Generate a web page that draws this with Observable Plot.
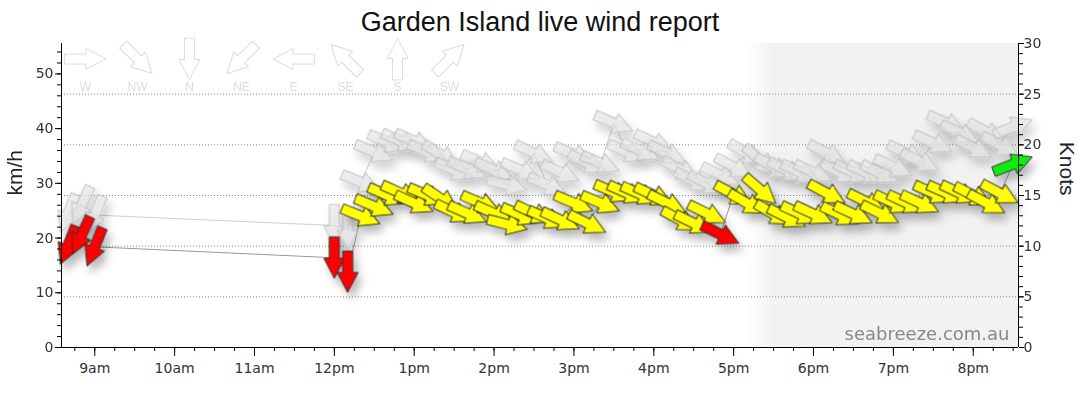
<!DOCTYPE html>
<html><head><meta charset="utf-8">
<script src="https://cdn.jsdelivr.net/npm/d3@7"></script>
<script src="https://cdn.jsdelivr.net/npm/@observablehq/plot@0.6"></script>
<style>
body{margin:0;background:#fff;width:1080px;height:414px;overflow:hidden;position:relative;}
#title{height:33px;line-height:45px;font-family:"Liberation Sans",Arial,sans-serif;font-size:27px;text-align:center;color:#111;white-space:nowrap;}
#legend{position:absolute;left:0;top:0;z-index:2;pointer-events:none;}
#chart svg,#legend svg{display:block;}
</style></head><body>
<div id="title">Garden Island live wind report</div>
<div id="chart"></div>
<div id="legend"></div>
<script>
const KN = 1.852; // km/h per knot

// observation times (local)
const times = ["08:40","08:50","09:00","12:00","12:10",
  "12:20","12:30","12:40","12:50","13:00","13:10","13:20","13:30","13:40","13:50",
  "14:00","14:10","14:20","14:30","14:40","14:50","15:00","15:10","15:20","15:30",
  "15:40","15:50","16:00","16:10","16:20","16:30","16:40","16:50","17:00","17:10",
  "17:20","17:30","17:40","17:50","18:00","18:10","18:20","18:30","18:40","18:50",
  "19:00","19:10","19:20","19:30","19:40","19:50","20:00","20:10","20:20","20:30"];
// average wind speed, km/h
const speeds = [18.7,20.5,18.4,16.4,13.8,
  24.0,25.8,27.8,28.2,26.4,27.8,27.2,24.7,24.5,26.4,
  24.5,22.5,24.2,24.5,23.6,23.3,26.4,22.7,26.4,28.4,
  28.2,28.0,27.8,26.4,23.3,22.7,24.5,20.7,28.0,26.4,
  28.8,24.4,23.8,24.4,24.4,28.2,24.2,24.4,26.6,24.5,
  26.4,26.4,26.4,28.2,28.2,28.2,27.8,26.4,28.2,33.5];
// gusts, km/h
const gusts = [24.5,26.0,24.2,22.3,21.5,
  30.2,35.7,37.5,37.7,37.7,35.7,35.2,32.4,32.6,33.9,
  32.4,29.7,32.4,35.5,29.7,32.0,35.3,33.7,33.7,41.0,
  35.7,36.0,37.5,35.5,32.5,30.5,30.0,31.5,33.0,35.5,
  34.2,33.0,32.4,32.0,32.0,35.5,32.0,32.0,31.9,31.9,
  33.0,35.5,34.0,37.4,41.0,39.2,36.5,39.4,37.0,40.3];
// direction the wind comes from, degrees
const dirs = [22,25,22,0,0,
  292,293,293,294,294,293,304,295,294,293,
  294,284,293,295,294,295,293,296,293,293,
  294,294,295,296,298,296,296,296,298,300,
  311,300,296,295,295,298,296,295,296,296,
  295,295,295,294,294,295,297,298,298,249];

const domainStart = "08:35", domainEnd = "20:34";
const nightStart = "17:10";
const xTickTimes = ["09:00","10:00","11:00","12:00","13:00","14:00","15:00","16:00","17:00","18:00","19:00","20:00"];
const xTickLabels = ["9am","10am","11am","12pm","1pm","2pm","3pm","4pm","5pm","6pm","7pm","8pm"];
const kmhTicks = [0,10,20,30,40,50];
const knotTicks = [0,5,10,15,20,25,30];
const gridKnots = [5,10,15,20,25];
const colorThresholdsKn = [12, 18];
const speedColors = ["#ff0000","#ffff00","#11ee11"];
const legendDirs = ["W","NW","N","NE","E","SE","S","SW"];
const legendDeg = [270,315,0,45,90,135,180,225];

const T = s => { const [h, m] = s.split(":").map(Number); return new Date(Date.UTC(2024, 0, 15, h, m)); };
const data = times.map((t, i) => ({time: T(t), speed: speeds[i], gust: gusts[i], dir: dirs[i]}));
const xTicks = xTickTimes.map(T);
const x0 = T(domainStart), x1 = T(domainEnd);

const windArrow = {
  draw(context, l) {
    const hl = 20, hw = 10.5, sw = 5;
    context.moveTo(-sw, 0);
    context.lineTo(-sw, -l + hl);
    context.lineTo(-hw, -l + hl);
    context.lineTo(0, -l);
    context.lineTo(hw, -l + hl);
    context.lineTo(sw, -l + hl);
    context.lineTo(sw, 0);
    context.closePath();
  }
};

const minorX = d3.utcMinute.every(15).range(x0, x1);
const minorKmh = d3.range(0, 56, 2);
const minorKn = d3.range(0, 31, 1).map(k => k * KN);

const chart = Plot.plot({
  width: 1080, height: 381,
  marginTop: 10, marginBottom: 67, marginLeft: 61, marginRight: 62,
  style: {fontFamily: "'DejaVu Sans', Verdana, sans-serif", fontSize: "14px", color: "#333", background: "white", overflow: "visible"},
  x: {type: "utc", domain: [x0, x1], label: null},
  y: {domain: [0, 30 * KN], label: null},
  color: {type: "threshold", domain: colorThresholdsKn.map(k => k * KN), range: speedColors},
  marks: [
    Plot.rect([[T(nightStart), x1]], {x1: d => d[0], x2: d => d[1], fill: "url(#nightGrad)"}),
    Plot.gridY(gridKnots.map(k => k * KN), {stroke: "#888", strokeOpacity: 1, strokeDasharray: "1,2"}),
    Plot.line(data, {x: "time", y: "gust", stroke: "#cfcfcf", strokeWidth: 1}),
    Plot.line(data, {x: "time", y: "speed", stroke: "#999", strokeWidth: 1}),
    Plot.vector(data, {x: "time", y: "gust", rotate: d => d.dir + 180, length: 41, anchor: "middle", shape: windArrow,
      fill: "#e4e4e4", fillOpacity: 0.6, stroke: "#bbb", strokeOpacity: 0.9, strokeWidth: 1}),
    Plot.vector(data, {x: "time", y: "speed", rotate: d => d.dir + 180, length: 41, anchor: "middle", shape: windArrow,
      fill: "speed", stroke: "#333", strokeWidth: 1}),
    Plot.ruleX([x0, x1], {stroke: "#000"}),
    Plot.ruleY([0], {stroke: "#000"}),
    Plot.axisY(kmhTicks, {anchor: "left", tickSize: 6, tickPadding: 2, stroke: "#000", fill: "#333", label: null}),
    Plot.axisY(minorKmh, {anchor: "left", tickSize: 4, tickFormat: () => "", stroke: "#000", label: null}),
    Plot.axisY(knotTicks.map(k => k * KN), {anchor: "right", tickSize: 5, tickPadding: 0, stroke: "#000", fill: "#333",
      tickFormat: d => String(Math.round(d / KN)), label: null}),
    Plot.axisY(minorKn, {anchor: "right", tickSize: 4, tickFormat: () => "", stroke: "#000", label: null}),
    Plot.axisX(xTicks, {tickSize: 9, tickPadding: 7, stroke: "#000", fill: "#333", label: null,
      tickFormat: d => xTickLabels[xTicks.findIndex(t => +t === +d)]}),
    Plot.axisX(minorX, {tickSize: 4, tickFormat: () => "", stroke: "#000", label: null}),
    Plot.text(["km/h"], {text: d => d, frameAnchor: "left", rotate: -90, dx: -46, dy: 0, fontSize: 21,
      fontFamily: "'Liberation Sans', Arial, sans-serif", fill: "#222"}),
    Plot.text(["Knots"], {text: d => d, frameAnchor: "right", rotate: 90, dx: 48, dy: 0, fontSize: 21,
      fontFamily: "'Liberation Sans', Arial, sans-serif", fill: "#222"}),
    Plot.text(["seabreeze.com.au"], {text: d => d, frameAnchor: "bottom-right", textAnchor: "end", dx: -9, dy: -8,
      fontSize: 18, fill: "#888", fontFamily: "'DejaVu Sans', Verdana, sans-serif"})
  ]
});

d3.select(chart).insert("defs", ":first-child").html(
  `<filter id="shadow" x="-20%" y="-20%" width="140%" height="160%">
     <feDropShadow dx="4" dy="7" stdDeviation="4" flood-color="#000" flood-opacity="0.28"/>
   </filter>
   <linearGradient id="nightGrad" x1="0" y1="0" x2="1" y2="0">
     <stop offset="0" stop-color="#ffffff"/>
     <stop offset="0.1" stop-color="#f2f2f2"/>
     <stop offset="1" stop-color="#f2f2f2"/>
   </linearGradient>`);
chart.querySelectorAll('g[aria-label="vector"]').forEach(g => g.setAttribute("filter", "url(#shadow)"));
document.getElementById("chart").appendChild(chart);

const legend = Plot.plot({
  width: 540, height: 117, marginTop: 0, marginBottom: 0, marginLeft: 0, marginRight: 0,
  style: {background: "transparent", overflow: "visible", fontFamily: "'Liberation Sans', Arial, sans-serif"},
  x: {type: "point", domain: legendDirs, range: [82, 452], padding: 0, axis: null},
  marks: [
    Plot.vector(legendDirs, {x: d => d, frameAnchor: "middle", rotate: (d, i) => legendDeg[i] + 180, length: 41,
      anchor: "middle", shape: windArrow, fill: "white", stroke: "#dcdcdc", strokeWidth: 1}),
    Plot.text(legendDirs, {x: d => d, text: d => d, frameAnchor: "middle", dy: 28.5, fill: "#dcdcdc", fontSize: 12})
  ]
});
document.getElementById("legend").appendChild(legend);
</script></body></html>
